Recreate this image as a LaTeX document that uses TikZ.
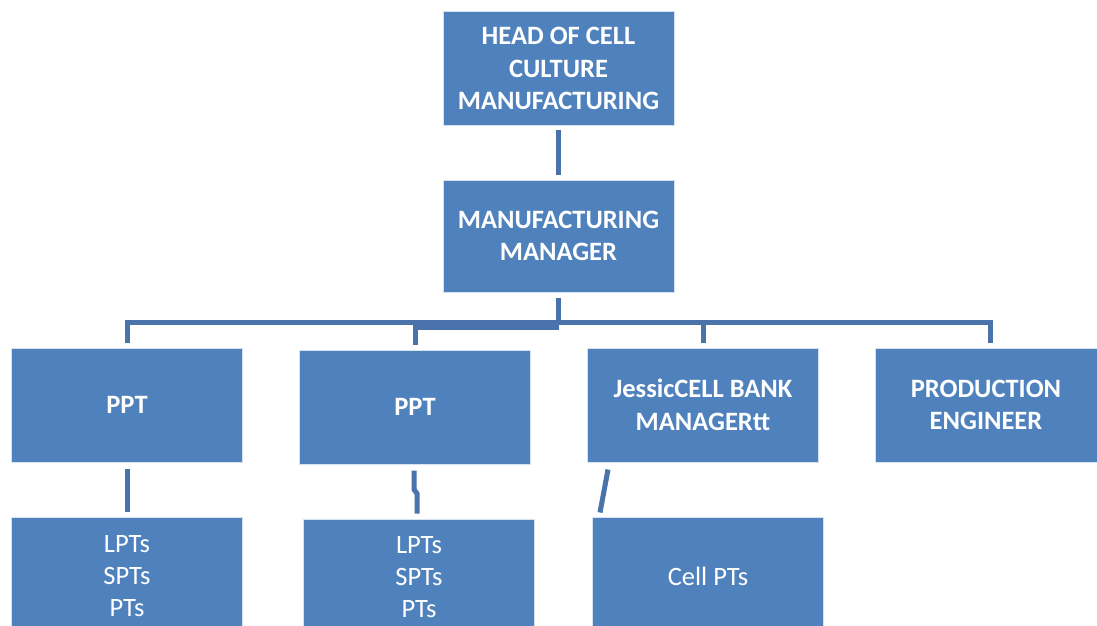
\documentclass[tikz,border=0pt]{standalone}
\usepackage{fontspec}
\setmainfont{Carlito}
\usetikzlibrary{calc}
\definecolor{boxfill}{HTML}{4F81BD}
\definecolor{boxedge}{HTML}{D6E2F0}
\definecolor{linecol}{HTML}{4A72AB}
\tikzset{
  orgbox/.style={rectangle, fill=boxfill, draw=boxedge, line width=1pt,
    minimum width=231pt, minimum height=113pt, inner sep=0pt,
    text=white, align=center, font=\fontsize{26.5}{32.5}\selectfont\bfseries},
  subbox/.style={orgbox, font=\fontsize{26.5}{32}\selectfont},
  conn/.style={draw=linecol, line width=5pt, line join=miter}
}
\begin{document}
\begin{tikzpicture}[x=1pt,y=-1pt]
\useasboundingbox (0,0) rectangle (1097,626);
\node[orgbox] (head) at (558.5,68.5) {HEAD OF CELL\\CULTURE\\MANUFACTURING};
\node[orgbox, minimum height=112pt] (mm) at (558.5,236) {MANUFACTURING\\MANAGER};
\node[orgbox, minimum height=114pt] (ppt1) at (127,405) {PPT};
\node[orgbox, minimum height=114pt] (ppt2) at (415,407) {PPT};
\node[orgbox, minimum height=114pt] (jes) at (703,405) {JessicCELL BANK\\MANAGERtt};
\node[orgbox, minimum height=114pt, minimum width=222pt] (pe) at (986,405) {PRODUCTION\\ENGINEER};
\node[subbox, minimum height=119pt] (b1) at (127,576.5) {LPTs\\SPTs\\PTs};
\node[subbox, minimum height=117pt] (b2) at (419,577.5) {LPTs\\SPTs\\PTs};
\node[subbox, minimum height=119pt] (b3) at (708,576.5) {Cell PTs};

\coordinate (bus) at (558.5,322);
\coordinate (bus2) at (558.5,327);
\draw[conn] ($(head.south)+(0,4)$) -- ($(mm.north)+(0,-5)$);
\draw[conn] ($(mm.south)+(0,5)$) -- (bus) -| ($(ppt1.north)+(0,-5)$);
\draw[conn] (bus) -| ($(jes.north)+(0,-5)$);
\draw[conn] (bus) -| ($(pe.north)+(4,-5)$);
\draw[conn] (bus2) -| ($(ppt2.north)+(0,-5)$);
\draw[conn] ($(ppt1.south)+(0,6)$) -- ($(b1.north)+(0,-5)$);
\draw[conn] ($(ppt2.south)+(-1,6)$) -- ++(0,19) -- ++(3,4) -- ($(b2.north)+(-2,-5)$);
\draw[conn] ($(jes.south)+(-95,7)$) -- ($(b3.north)+(-108,-4)$);
\end{tikzpicture}
\end{document}
